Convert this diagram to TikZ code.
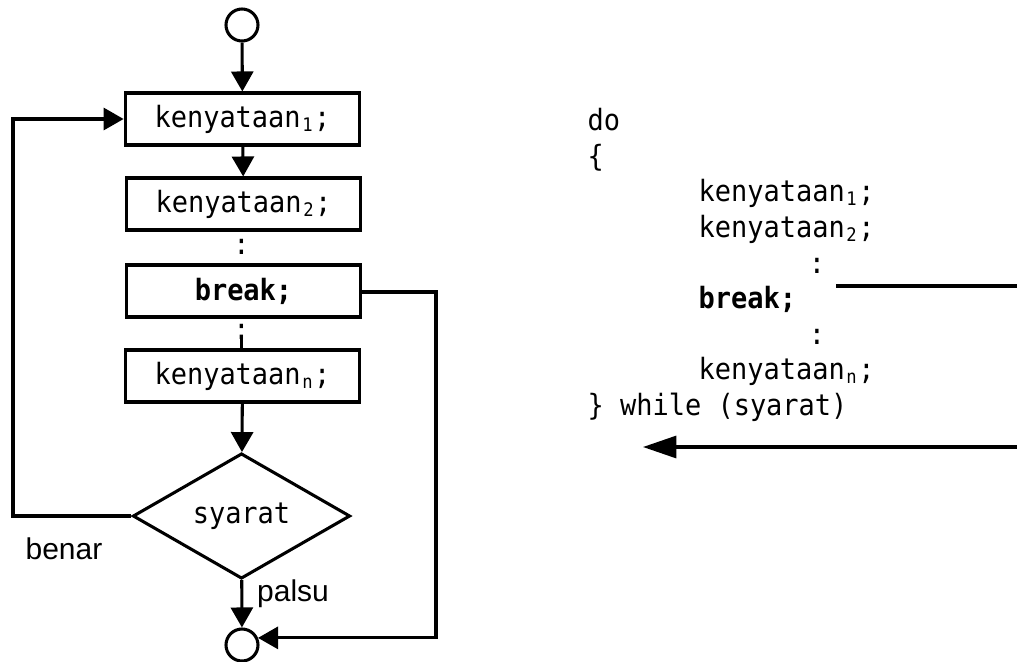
\documentclass[tikz,border=0pt]{standalone}
\usepackage{fontspec}
\setmonofont[FakeStretch=0.92]{DejaVu Sans Mono}
\setsansfont{Liberation Sans}
\usetikzlibrary{shapes.geometric,arrows.meta}

% small index set as a narrow subscript in monospace
\newcommand\subidx[1]{\makebox[0.46em][c]{\raisebox{-0.14em}{\fontsize{14}{14}\selectfont #1}}}

\begin{document}
\begin{tikzpicture}[x=0.75pt,y=-0.75pt,
  line width=2.3pt,
  code/.style={font=\ttfamily\fontsize{22}{26}\selectfont, inner sep=0pt},
  stepbox/.style={draw, rectangle, minimum width=176pt, minimum height=39pt,
    inner sep=0pt, code},
  terminal/.style={draw, circle, minimum size=24pt, inner sep=0pt},
  decision/.style={draw, diamond, minimum width=163pt, minimum height=94pt,
    aspect=1.7, inner sep=0pt, code},
  lbl/.style={font=\sffamily\fontsize{22.5}{26}\selectfont, inner sep=0pt},
  flow/.style={-{Triangle[length=15pt,width=16.5pt]}},
  bigflow/.style={-{Triangle[length=25pt,width=16.5pt]}}]

\useasboundingbox (0,0) rectangle (1017,661);

% ---- flowchart ----
\node[terminal] (start) at (242,25) {};
\node[stepbox] (s1) at (242.5,119) {kenyataan\subidx{1};};
\node[stepbox] (s2) at (243.5,204) {kenyataan\subidx{2};};
\node[code, anchor=base] (c1) at (241.5,254) {:};
\node[stepbox] (brk) at (243.5,291) {\bfseries break;};
\node[code, anchor=base] (c2) at (241.5,339) {:};
\coordinate (c2stub) at (241.5,338);
\node[stepbox] (sn) at (242.5,376) {kenyataan\subidx{n};};
\node[decision] (cond) at (241.5,516) {syarat};
\node[terminal] (stop) at (242,645) {};

\draw[flow] (start) -- (s1);
\draw[flow] (s1) -- (s2);
\draw[line cap=round] (c2stub) -- (c2stub |- sn.north);
\draw[flow] (sn) -- (cond);
\draw[flow] (cond) -- (stop);

% loop back while the condition holds
\coordinate (loopL) at (13,516);
\draw[flow] (cond.west) -- (loopL) |- (s1.west);

% exit taken by break
\coordinate (brkR) at (436,292);
\draw[flow] (brk.east |- brkR) -- (brkR) |- (stop.24);

\node[lbl] (benar) at (64,549) {benar};
\node[lbl] (palsu) at (293,594) {palsu};

% ---- code listing ----
\node[code, anchor=base west] (l1) at (586,130) {do};
\node[code, anchor=base west] (l2) at (586,166) {\{};
\node[code, anchor=base west] (l3) at (697,201) {kenyataan\subidx{1};};
\node[code, anchor=base west] (l4) at (697,237) {kenyataan\subidx{2};};
\node[code, anchor=base] (l5) at (817,273) {:};
\node[code, anchor=base west] (l6) at (697,308) {\bfseries break;};
\node[code, anchor=base] (l7) at (817,344) {:};
\node[code, anchor=base west] (l8) at (697,379) {kenyataan\subidx{n};};
\node[code, anchor=base west] (l9) at (586,415) {\} while (syarat)};

\coordinate (brkFrom) at (836,286);
\coordinate (brkTo) at (1017,286);
\draw (brkFrom) -- (brkTo);
\coordinate (exitFrom) at (1017,447);
\coordinate (exitTo) at (643,447);
\draw[bigflow] (exitFrom) -- (exitTo);
\end{tikzpicture}
\end{document}
